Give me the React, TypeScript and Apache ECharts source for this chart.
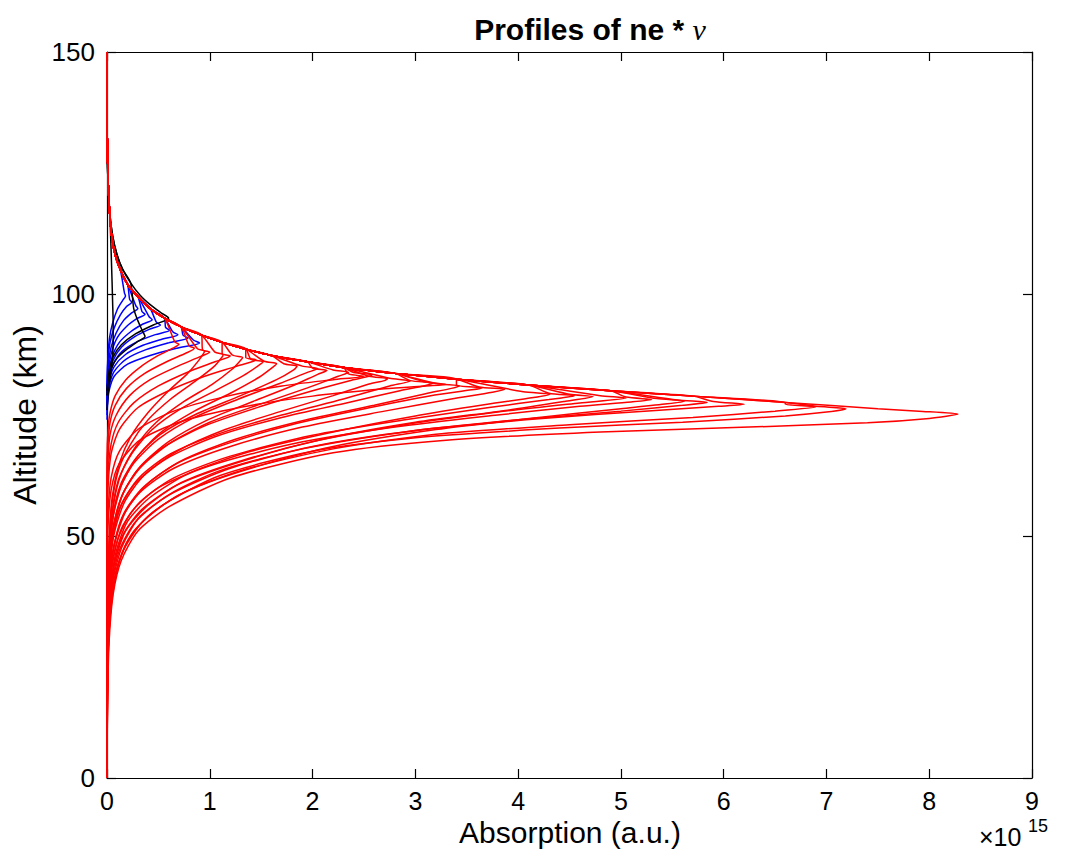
import React, { useEffect, useRef } from "react";
import * as echarts from "echarts";

// Axis ranges (x in units of 1e15)
const X_MIN = 0, X_MAX = 9, X_STEP = 1;
const Y_MIN = 0, Y_MAX = 150, Y_STEP = 50;

// Common upper envelope of the profiles: [absorption, altitude]
const ENVELOPE: number[][] = [
  [8.28, 75.2], [7.5, 76.3], [6.6, 77.6], [5.7, 78.9], [4.9, 80.0], [4.1, 81.2],
  [3.4, 82.4], [2.8, 83.6], [2.3, 84.8], [1.95, 86.0], [1.6, 87.3], [1.35, 88.6],
  [1.12, 90.0], [0.92, 91.5], [0.72, 93.2], [0.56, 95.0], [0.42, 97.0], [0.3, 99.5],
  [0.2, 102.0], [0.13, 105.0], [0.08, 108.0], [0.045, 112.0], [0.025, 117.0],
  [0.01, 124.0], [0.003, 132.0], [0, 140], [0, 150],
];

// Red profiles: lower branch, peak and start of the return hook
const RED_PROFILES: number[][][] = [
  [[0,0],[0.005,15],[0.02,28],[0.06,38],[0.14,45],[0.3,51],[0.6,56],[1.2,62],[2.2,67.2],[3.3,69.8],[4.8,71.5],[6.1,72.4],[7.4,73.4],[8.0,74.3],[8.28,75.2],[7.9,75.8]],
  [[0,0],[0.004,15],[0.015,28],[0.05,38],[0.12,45],[0.26,51],[0.55,56.5],[1.1,62.5],[2.0,67.5],[3.0,70.3],[4.4,72.3],[5.6,73.5],[6.6,74.8],[7.0,75.6],[7.19,76.3],[6.9,76.8]],
  [[0,0],[0.005,18],[0.02,30],[0.07,40],[0.16,47],[0.35,53],[0.7,58.5],[1.3,63.5],[2.2,68],[3.2,71],[4.5,73],[5.7,74.5],[6.5,75.8],[6.9,76.7],[6.6,77.2]],
  [[0,0],[0.005,20],[0.02,31],[0.06,41],[0.15,48],[0.32,54],[0.65,59],[1.2,64],[2.0,68.5],[3.0,71.8],[4.2,74.2],[5.3,75.9],[5.95,76.8],[6.2,77.2],[5.9,77.8]],
  [[0,0],[0.004,18],[0.015,30],[0.05,40],[0.12,47],[0.28,53],[0.6,58.5],[1.1,63.5],[1.9,68],[2.9,71.5],[4.0,74],[5.0,75.8],[5.6,77],[5.84,77.6],[5.55,78.1]],
  [[0,0],[0.006,20],[0.025,32],[0.08,42],[0.2,49],[0.42,54.5],[0.8,59.5],[1.4,64],[2.2,68.5],[3.2,72],[4.2,74.5],[5.0,76.3],[5.45,77.3],[5.62,77.9],[5.35,78.4]],
  [[0,0],[0.003,20],[0.012,32],[0.04,42],[0.1,49],[0.24,55],[0.5,60],[1.0,64.5],[1.8,69],[2.8,72.5],[3.8,75],[4.6,76.8],[5.1,77.7],[5.3,78.2],[5.05,78.7]],
  [[0,0],[0.004,21],[0.018,33],[0.06,43],[0.15,50],[0.34,55.5],[0.68,60.5],[1.25,65],[2.0,69.5],[2.9,73],[3.8,75.6],[4.6,77.5],[5.05,78.5],[4.8,79.0]],
  [[0,0],[0.005,22],[0.02,34],[0.07,44],[0.18,51],[0.38,56],[0.72,61],[1.3,65.5],[2.1,70],[3.0,73.5],[3.9,76],[4.45,77.8],[4.73,78.8],[4.5,79.3]],
  [[0,0],[0.004,22],[0.015,34],[0.05,44],[0.14,51.5],[0.32,57],[0.65,62],[1.2,66.5],[2.0,70.8],[2.9,74],[3.7,76.5],[4.3,78.2],[4.55,79.0],[4.3,79.5]],
  [[0,0],[0.006,24],[0.025,36],[0.08,46],[0.2,53],[0.42,58],[0.8,63],[1.4,67.5],[2.2,71.5],[3.0,74.8],[3.7,77.2],[4.15,78.6],[4.31,79.3],[4.05,79.8]],
  [[0,0],[0.004,24],[0.016,36],[0.05,46],[0.14,53.5],[0.32,59],[0.65,64],[1.2,68.5],[1.9,72.5],[2.7,75.8],[3.35,78.3],[3.75,79.7],[3.87,80.3],[3.62,80.8]],
  [[0,0],[0.005,25],[0.02,37],[0.06,47],[0.16,54.5],[0.35,60],[0.68,65],[1.2,69.3],[1.85,73.3],[2.55,76.5],[3.15,79],[3.55,80.2],[3.65,80.6],[3.4,81.2]],
  [[0,0],[0.005,26],[0.02,38],[0.07,48],[0.18,55],[0.38,60.5],[0.72,65.5],[1.25,70],[1.9,73.8],[2.6,77],[3.1,79.4],[3.35,80.5],[3.43,81.0],[3.2,81.5]],
  [[0,0],[0,42],[0.01,52],[0.04,59.5],[0.12,65],[0.32,69.8],[0.7,73.5],[1.3,76.6],[2.0,78.9],[2.7,80.4],[3.1,81.0],[3.3,81.3],[3.1,81.8]],
  [[0,0],[0.004,26],[0.014,38],[0.045,48],[0.12,55.5],[0.28,61],[0.58,66],[1.05,70.5],[1.7,74.5],[2.35,77.6],[2.85,80],[3.1,81.1],[3.17,81.6],[2.95,82.1]],
  [[0,0],[0.004,27],[0.016,39],[0.05,49],[0.14,56.5],[0.31,62],[0.62,67],[1.1,71.2],[1.7,75],[2.3,78.3],[2.75,81],[2.95,82.0],[2.75,82.6]],
  [[0,0],[0.005,28],[0.02,40],[0.065,50],[0.17,57],[0.36,62.5],[0.68,67.5],[1.15,72],[1.7,75.8],[2.2,79],[2.55,81.4],[2.7,82.1],[2.73,82.5],[2.55,83.0]],
  [[0,0],[0.004,28],[0.015,40],[0.05,50],[0.13,57.5],[0.29,63.5],[0.56,68.5],[0.98,73],[1.5,76.8],[2.0,80],[2.38,82.2],[2.55,83.0],[2.58,83.3],[2.4,83.8]],
  [[0,0],[0,45],[0.01,55],[0.04,62],[0.12,67.5],[0.3,72],[0.65,75.8],[1.15,78.8],[1.7,81],[2.2,82.3],[2.5,83.0],[2.35,83.5]],
  [[0,0],[0.005,29],[0.02,41],[0.06,51],[0.15,58.5],[0.32,64],[0.6,69],[1.0,73.5],[1.5,77.3],[1.95,80.6],[2.25,83],[2.35,83.8],[2.2,84.3]],
  [[0,0],[0.005,30],[0.02,42],[0.06,52],[0.16,59],[0.33,64.5],[0.6,69.5],[0.98,74],[1.42,77.8],[1.8,81],[2.05,83.4],[2.14,84.2],[2.0,84.7]],
  [[0,0],[0.004,30],[0.014,42],[0.045,52],[0.12,59.5],[0.26,65],[0.5,70],[0.85,74.5],[1.28,78.3],[1.68,81.5],[1.95,83.8],[2.05,84.6],[1.9,85.1]],
  [[0,0],[0.004,31],[0.016,43],[0.05,53],[0.13,60.5],[0.28,66],[0.52,71],[0.88,75.3],[1.3,79],[1.65,82.3],[1.82,84.4],[1.85,85.1],[1.72,85.6]],
  [[0,0],[0.005,32],[0.02,44],[0.06,54],[0.15,61],[0.3,66.5],[0.53,71.5],[0.85,75.8],[1.2,79.5],[1.48,82.8],[1.62,85],[1.65,85.6],[1.53,86.1]],
  [[0,0],[0.004,32],[0.015,44],[0.045,54],[0.11,61.5],[0.24,67],[0.44,72],[0.72,76.3],[1.05,80],[1.33,83.2],[1.48,85.3],[1.52,86.0],[1.4,86.5]],
  [[0,0],[0,50],[0.01,60],[0.04,67],[0.12,72],[0.3,76.5],[0.6,80],[0.95,83],[1.25,85],[1.45,86.4],[1.35,86.9]],
  [[0,0],[0.005,34],[0.02,46],[0.06,56],[0.14,63],[0.28,68.5],[0.48,73.5],[0.75,77.8],[1.02,81.3],[1.22,84.5],[1.3,86.3],[1.32,86.9],[1.22,87.4]],
  [[0,0],[0,55],[0.01,63],[0.04,69],[0.11,73.5],[0.26,77.5],[0.5,81],[0.8,84],[1.05,86],[1.2,87.2],[1.12,87.7]],
  [[0,0],[0.004,34],[0.015,46],[0.045,56],[0.11,63.5],[0.23,69],[0.4,74],[0.62,78.3],[0.86,82],[1.04,85],[1.12,87],[1.13,87.5],[1.05,88]],
  [[0,0],[0,58],[0.01,66],[0.03,71],[0.09,75],[0.22,79],[0.42,82.3],[0.68,85],[0.9,87],[1.0,88.0],[0.93,88.5]],
  [[0,0],[0.005,36],[0.018,48],[0.05,58],[0.12,65],[0.23,70.5],[0.4,75.5],[0.6,80],[0.78,83.5],[0.9,86.5],[0.95,88.2],[0.88,88.7]],
  [[0,0],[0,62],[0.01,69],[0.03,73.5],[0.08,77],[0.19,80.5],[0.36,83.5],[0.58,86],[0.77,87.8],[0.85,88.8],[0.8,89.3]],
  [[0,0],[0,66],[0.01,72],[0.03,75.5],[0.08,79],[0.18,82.2],[0.33,85],[0.5,87.3],[0.64,88.8],[0.7,89.6],[0.66,90.1]],
];

// Blue profiles
const BLUE_PROFILES: number[][][] = [
  [[0,74],[0.005,77],[0.02,80],[0.07,83],[0.2,85.5],[0.42,87.3],[0.68,88.8],[0.9,89.9],[0.84,90.5]],
  [[0,75],[0.005,78],[0.02,81],[0.07,84],[0.19,86.6],[0.38,88.5],[0.6,89.9],[0.79,90.9],[0.74,91.5]],
  [[0,76],[0.005,79],[0.02,82],[0.07,85],[0.18,87.5],[0.35,89.4],[0.54,90.7],[0.69,91.6],[0.64,92.2]],
  [[0,76],[0.005,79.5],[0.02,82.5],[0.06,85.5],[0.15,88.2],[0.3,90.2],[0.47,91.6],[0.61,92.5],[0.57,93.1]],
  [[0,77],[0.005,80],[0.02,83],[0.06,86.3],[0.14,89],[0.27,91.2],[0.41,92.7],[0.52,93.6],[0.48,94.2]],
  [[0,77],[0.004,80.5],[0.015,83.5],[0.05,87],[0.12,90],[0.23,92.2],[0.35,93.8],[0.44,94.7],[0.41,95.3]],
  [[0,78],[0.004,81],[0.015,84.5],[0.045,88],[0.1,91],[0.19,93.3],[0.29,94.9],[0.37,95.8],[0.34,96.4]],
  [[0,78],[0.004,82],[0.013,85.5],[0.04,89],[0.09,92],[0.16,94.5],[0.24,96.1],[0.3,97.0],[0.28,97.6]],
  [[0,79],[0.003,83],[0.01,86.5],[0.03,90],[0.07,93],[0.13,95.7],[0.19,97.4],[0.24,98.3],[0.22,98.9]],
  [[0,79],[0.003,83.5],[0.01,87.5],[0.025,91],[0.055,94],[0.1,96.8],[0.15,98.6],[0.18,99.6],[0.17,100.2]],
];

// Black profiles and their shared upper side (slightly outside the red envelope)
const BLACK_UPPER: number[][] = [
  [0.52, 96.2], [0.42, 97.8], [0.32, 99.8], [0.23, 102.3], [0.15, 105.2], [0.095, 108.3],
  [0.055, 112], [0.028, 116.5], [0.01, 123], [0.002, 130], [0, 140], [0, 150],
];
const BLACK_PROFILES: number[][][] = [
  [[0,80],[0.02,84],[0.06,87],[0.14,89.5],[0.28,91.8],[0.45,93.6],[0.6,95.0]],
  [[0,79],[0.01,82],[0.04,84.5],[0.1,86.8],[0.2,88.7],[0.3,90.2],[0.37,91.2],[0.34,92.6],[0.3,94.5],[0.26,97]],
  [[0,76],[0.01,79],[0.03,82.5],[0.05,86],[0.06,90],[0.06,94],[0.055,98],[0.05,102]],
];

function joinUpper(profile: number[][], upper: number[][]): number[][] {
  const last = profile[profile.length - 1];
  const rest = upper.filter((p) => p[1] > last[1] && p[0] < last[0] + 1e-9);
  return profile.concat(rest);
}

const FONT = "'Liberation Sans', Arial, Helvetica, sans-serif";

export default function App() {
  const ref = useRef<HTMLDivElement>(null);
  useEffect(() => {
    if (!ref.current) return;
    const chart = echarts.init(ref.current, undefined, { renderer: "svg" });
    const mk = (data: number[][], color: string) => ({
      type: "line",
      data,
      showSymbol: false,
      symbol: "none",
      smooth: 0.25,
      xAxisIndex: 0,
      yAxisIndex: 0,
      lineStyle: { color, width: 1.5 },
      silent: true,
    });
    const series: any[] = [];
    BLUE_PROFILES.forEach((p) => series.push(mk(joinUpper(p, ENVELOPE), "#0000ff")));
    BLACK_PROFILES.forEach((p) => series.push(mk(joinUpper(p, BLACK_UPPER), "#000000")));
    RED_PROFILES.forEach((p) => series.push(mk(joinUpper(p, ENVELOPE), "#ff0000")));

    const axisCommon = {
      axisLine: { show: true, onZero: false, lineStyle: { color: "#000", width: 1.2 } },
      axisTick: { show: true, inside: true, length: 9, lineStyle: { color: "#000", width: 1.2 } },
      splitLine: { show: false },
    };
    chart.setOption({
      animation: false,
      backgroundColor: "#fff",
      title: {
        text: "Profiles of ne * {nu|ν}",
        left: 585,
        textAlign: "center",
        top: 9,
        textStyle: {
          fontFamily: FONT,
          fontWeight: "bold",
          fontSize: 30,
          color: "#000",
          rich: {
            nu: { fontFamily: "'Liberation Serif', 'DejaVu Serif', serif", fontStyle: "italic", fontWeight: "normal", fontSize: 30, color: "#000" },
          },
        },
      },
      grid: { left: 107, right: 36, top: 52, bottom: 73, containLabel: false, outerBoundsMode: "none" },
      xAxis: [
        {
          type: "value", min: X_MIN, max: X_MAX, interval: X_STEP, position: "bottom",
          axisLabel: { fontFamily: FONT, fontSize: 25, color: "#000", margin: 10 },
          ...axisCommon,
        },
        {
          type: "value", min: X_MIN, max: X_MAX, interval: X_STEP, position: "top",
          axisLabel: { show: false },
          ...axisCommon,
        },
      ],
      yAxis: [
        {
          type: "value", min: Y_MIN, max: Y_MAX, interval: Y_STEP, position: "left",
          name: "Altitude (km)", nameLocation: "middle", nameGap: 61,
          nameTextStyle: { fontFamily: FONT, fontSize: 32, color: "#000" },
          axisLabel: { fontFamily: FONT, fontSize: 26, color: "#000", margin: 12 },
          ...axisCommon,
        },
        {
          type: "value", min: Y_MIN, max: Y_MAX, interval: Y_STEP, position: "right",
          axisLabel: { show: false },
          ...axisCommon,
        },
      ],
      graphic: [
        {
          type: "text",
          x: 570,
          y: 832,
          style: { text: "Absorption (a.u.)", fontFamily: FONT, fontSize: 30, fill: "#000", textAlign: "center", textVerticalAlign: "middle" },
        },
        {
          type: "text",
          x: 979,
          y: 837,
          style: { text: "×10", fontFamily: FONT, fontSize: 25, fill: "#000", textVerticalAlign: "middle" },
        },
        {
          type: "text",
          x: 1028,
          y: 826,
          style: { text: "15", fontFamily: FONT, fontSize: 18, fill: "#000", textVerticalAlign: "middle" },
        },
      ],
      series,
    });
    return () => chart.dispose();
  }, []);
  return (
    <div
      ref={ref}
      style={{ position: "fixed", left: 0, top: 0, width: 1068, height: 851, background: "#fff" }}
    />
  );
}
